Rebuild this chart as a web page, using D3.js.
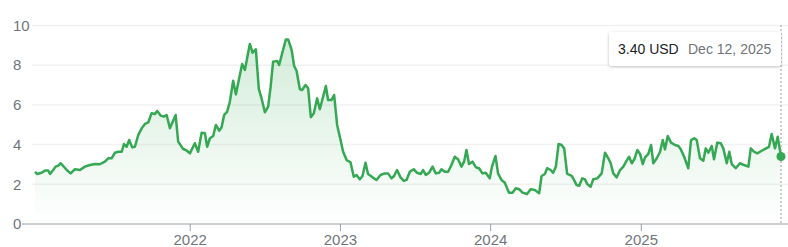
<!DOCTYPE html>
<html>
  <head>
    <meta charset="UTF-8">
    <title>Price chart</title>
    <style>
      * { margin: 0; padding: 0; overflow: hidden; }
      body { background: #fff; }
      text { font-family: Arial, "Liberation Sans", sans-serif; }
    </style>
    <script src="https://d3js.org/d3.v7.min.js"></script>
  </head>
  <body>
    <script type="text/javascript">
      // dates as decimal years
      const years = [
        2020.967, 2020.982, 2021.011, 2021.033, 2021.055, 2021.067, 2021.088, 2021.104, 2021.122, 2021.138,
        2021.155, 2021.178, 2021.204, 2021.233, 2021.266, 2021.299, 2021.333, 2021.366, 2021.399, 2021.432,
        2021.454, 2021.477, 2021.499, 2021.521, 2021.544, 2021.559, 2021.577, 2021.594, 2021.614, 2021.632,
        2021.654, 2021.677, 2021.699, 2021.721, 2021.743, 2021.765, 2021.780, 2021.803, 2021.825, 2021.843,
        2021.865, 2021.903, 2021.920, 2021.953, 2021.971, 2021.998, 2022.031, 2022.053, 2022.076, 2022.098,
        2022.113, 2022.131, 2022.153, 2022.171, 2022.193, 2022.209, 2022.226, 2022.246, 2022.264, 2022.286,
        2022.304, 2022.326, 2022.346, 2022.364, 2022.397, 2022.415, 2022.437, 2022.457, 2022.475, 2022.497,
        2022.519, 2022.535, 2022.552, 2022.579, 2022.592, 2022.615, 2022.637, 2022.652, 2022.675, 2022.692,
        2022.708, 2022.730, 2022.745, 2022.768, 2022.785, 2022.803, 2022.823, 2022.845, 2022.863, 2022.903,
        2022.918, 2022.941, 2022.958, 2022.978, 2022.996, 2023.018, 2023.041, 2023.067, 2023.089, 2023.107,
        2023.129, 2023.147, 2023.167, 2023.184, 2023.214, 2023.240, 2023.267, 2023.295, 2023.317, 2023.340,
        2023.357, 2023.377, 2023.400, 2023.422, 2023.440, 2023.462, 2023.488, 2023.510, 2023.535, 2023.550,
        2023.568, 2023.590, 2023.613, 2023.635, 2023.657, 2023.673, 2023.695, 2023.717, 2023.739, 2023.761,
        2023.783, 2023.806, 2023.823, 2023.839, 2023.856, 2023.879, 2023.901, 2023.923, 2023.945, 2023.967,
        2023.994, 2024.009, 2024.032, 2024.049, 2024.072, 2024.094, 2024.122, 2024.145, 2024.167, 2024.189,
        2024.212, 2024.242, 2024.265, 2024.293, 2024.322, 2024.338, 2024.360, 2024.375, 2024.398, 2024.415,
        2024.433, 2024.451, 2024.471, 2024.488, 2024.508, 2024.538, 2024.553, 2024.571, 2024.588, 2024.608,
        2024.626, 2024.641, 2024.664, 2024.681, 2024.708, 2024.737, 2024.759, 2024.781, 2024.797, 2024.814,
        2024.837, 2024.859, 2024.881, 2024.899, 2024.919, 2024.937, 2024.954, 2024.974, 2024.992, 2025.010,
        2025.025, 2025.047, 2025.065, 2025.080, 2025.103, 2025.125, 2025.143, 2025.158, 2025.176, 2025.198,
        2025.225, 2025.247, 2025.263, 2025.285, 2025.313, 2025.331, 2025.353, 2025.369, 2025.391, 2025.413,
        2025.429, 2025.446, 2025.469, 2025.484, 2025.506, 2025.529, 2025.546, 2025.569, 2025.586, 2025.602,
        2025.629, 2025.657, 2025.684, 2025.713, 2025.729, 2025.750, 2025.772, 2025.802, 2025.824, 2025.850,
        2025.868, 2025.890, 2025.908, 2025.930
      ];
      // price in USD
      const prices = [
        2.63, 2.52, 2.58, 2.69, 2.69, 2.52, 2.72, 2.89, 2.94, 3.06,
        2.92, 2.72, 2.55, 2.76, 2.72, 2.89, 2.97, 3.02, 3.01, 3.14,
        3.31, 3.31, 3.59, 3.64, 3.64, 4.03, 3.89, 4.23, 3.86, 3.89,
        4.48, 4.82, 5.04, 5.12, 5.58, 5.54, 5.69, 5.46, 5.41, 5.49,
        4.82, 5.49, 4.15, 3.78, 3.73, 3.56, 4.07, 3.64, 4.60, 4.57,
        3.89, 4.32, 4.43, 4.99, 4.70, 4.87, 5.49, 5.66, 6.16, 7.22,
        6.53, 7.34, 8.06, 7.76, 9.07, 8.63, 8.80, 6.79, 6.33, 5.63,
        5.91, 6.89, 8.18, 8.21, 8.01, 8.68, 9.30, 9.30, 8.77, 7.96,
        7.72, 6.79, 6.75, 7.00, 6.84, 5.38, 5.58, 6.33, 5.78, 6.95,
        6.25, 6.25, 6.50, 4.99, 4.40, 3.64, 3.22, 3.11, 2.38, 2.47,
        2.25, 2.42, 3.09, 2.52, 2.35, 2.22, 2.47, 2.55, 2.55, 2.30,
        2.42, 2.72, 2.35, 2.17, 2.22, 2.63, 2.76, 2.58, 2.52, 2.72,
        2.47, 2.58, 2.89, 2.55, 2.58, 2.76, 2.63, 2.63, 2.97, 3.39,
        3.26, 2.89, 3.14, 3.73, 3.02, 3.14, 2.86, 2.81, 2.55, 2.58,
        2.30, 2.89, 3.43, 2.55, 2.22, 2.08, 1.58, 1.58, 1.80, 1.75,
        1.58, 1.51, 1.75, 1.71, 1.55, 2.42, 2.52, 2.81, 2.72, 2.58,
        2.89, 4.03, 3.98, 3.81, 2.52, 2.42, 2.22, 1.96, 1.93, 2.30,
        2.25, 2.02, 1.88, 2.25, 2.30, 2.55, 3.59, 3.31, 3.06, 2.55,
        2.35, 2.72, 2.89, 3.14, 3.39, 3.06, 3.26, 3.73, 3.53, 3.02,
        3.36, 3.53, 3.98, 3.06, 3.31, 3.64, 4.23, 3.76, 4.43, 4.10,
        3.98, 3.93, 3.76, 3.39, 2.81, 4.23, 4.32, 4.23, 3.31, 3.19,
        3.81, 3.59, 3.93, 3.26, 4.10, 4.07, 3.81, 3.06, 3.64, 3.02,
        2.81, 3.06, 2.97, 2.89, 3.81, 3.64, 3.56, 3.69, 3.78, 3.89,
        4.53, 3.81, 4.40, 3.40
      ];
      const yTicks = [0, 2, 4, 6, 8, 10];
      const yearTicks = [2022, 2023, 2024, 2025];
      const lastPrice = "3.40 USD";
      const lastDate = "Dec 12, 2025";

      const GREEN = "#34a853";
      const WIDTH = 788, HEIGHT = 247;

      const toDate = (y) => {
        const yr = Math.floor(y);
        const a = new Date(yr, 0, 1), b = new Date(yr + 1, 0, 1);
        return new Date(+a + (y - yr) * (b - a));
      };
      const data = years.map((y, i) => ({ date: toDate(y), value: prices[i] }));

      const svg = d3.select("body").append("svg")
        .attr("width", WIDTH)
        .attr("height", HEIGHT);

      const x = d3.scaleTime()
        .domain(d3.extent(data, (d) => d.date))
        .range([35, 781]);
      const y = d3.scaleLinear()
        .domain([0, 10])
        .range([224, 25.5]);

      const defs = svg.append("defs");
      const grad = defs.append("linearGradient")
        .attr("id", "fillGrad")
        .attr("gradientUnits", "userSpaceOnUse")
        .attr("x1", 0).attr("x2", 0)
        .attr("y1", y(9.3)).attr("y2", y(0));
      grad.append("stop").attr("offset", "0%").attr("stop-color", GREEN).attr("stop-opacity", 0.22);
      grad.append("stop").attr("offset", "100%").attr("stop-color", GREEN).attr("stop-opacity", 0);

      const shadow = defs.append("filter").attr("id", "shadow")
        .attr("x", "-10%").attr("y", "-30%").attr("width", "120%").attr("height", "170%");
      shadow.append("feDropShadow")
        .attr("dx", 0).attr("dy", 1).attr("stdDeviation", 1.5)
        .attr("flood-color", "#000").attr("flood-opacity", 0.25);

      // grid
      svg.append("g").selectAll("line")
        .data(yTicks.filter((t) => t > 0))
        .join("line")
        .attr("x1", 32).attr("x2", WIDTH)
        .attr("y1", (d) => y(d)).attr("y2", (d) => y(d))
        .attr("stroke", "#f1f1f1")
        .attr("stroke-width", 1.5);

      svg.append("g").selectAll("text")
        .data(yTicks)
        .join("text")
        .attr("x", 13)
        .attr("y", (d) => y(d))
        .attr("dy", "0.35em")
        .attr("fill", "#70757a")
        .attr("font-size", "15px")
        .text((d) => d);

      // area + line
      svg.append("path")
        .datum(data)
        .attr("fill", "url(#fillGrad)")
        .attr("d", d3.area().x((d) => x(d.date)).y0(y(0)).y1((d) => y(d.value)));

      svg.append("path")
        .datum(data)
        .attr("fill", "none")
        .attr("stroke", GREEN)
        .attr("stroke-width", 2.5)
        .attr("stroke-linejoin", "round")
        .attr("d", d3.line().x((d) => x(d.date)).y((d) => y(d.value)));

      // x axis
      svg.append("line")
        .attr("x1", 22).attr("x2", WIDTH)
        .attr("y1", y(0)).attr("y2", y(0))
        .attr("stroke", "#9aa0a6")
        .attr("stroke-width", 1);

      const xt = svg.append("g").selectAll("g")
        .data(yearTicks)
        .join("g")
        .attr("transform", (d) => `translate(${x(new Date(d, 0, 1))},0)`);
      xt.append("line")
        .attr("y1", y(0)).attr("y2", y(0) + 7)
        .attr("stroke", "#9aa0a6");
      xt.append("text")
        .attr("y", 245)
        .attr("text-anchor", "middle")
        .attr("fill", "#70757a")
        .attr("font-size", "15px")
        .text((d) => d);

      // hover marker
      const last = data[data.length - 1];
      svg.append("line")
        .attr("x1", x(last.date)).attr("x2", x(last.date))
        .attr("y1", 25).attr("y2", y(0))
        .attr("stroke", "#9aa0a6")
        .attr("stroke-dasharray", "2,2");
      svg.append("circle")
        .attr("cx", x(last.date)).attr("cy", y(last.value))
        .attr("r", 4.5)
        .attr("fill", GREEN);

      const tip = svg.append("g");
      tip.append("rect")
        .attr("x", 609).attr("y", 32)
        .attr("width", 172).attr("height", 34)
        .attr("rx", 2)
        .attr("fill", "#fff")
        .attr("filter", "url(#shadow)");
      tip.append("text")
        .attr("x", 618).attr("y", 49).attr("dy", "0.35em")
        .attr("fill", "#202124")
        .attr("font-size", "14px")
        .text(lastPrice);
      tip.append("text")
        .attr("x", 688).attr("y", 49).attr("dy", "0.35em")
        .attr("fill", "#70757a")
        .attr("font-size", "14px")
        .text(lastDate);
    </script>
  </body>
</html>
